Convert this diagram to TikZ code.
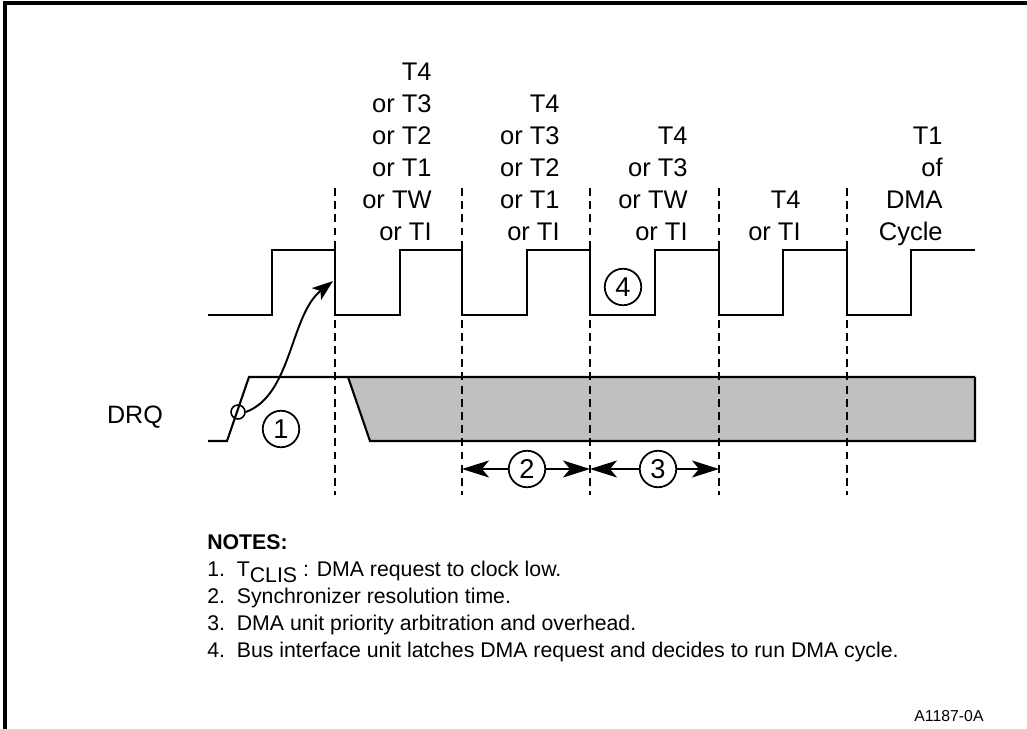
\documentclass[tikz,border=0pt]{standalone}
\usepackage{fontspec}
\setmainfont{Liberation Sans}
\usetikzlibrary{arrows.meta,positioning,calc}
\definecolor{busyfill}{RGB}{192,192,192}
\tikzset{
  wave/.style={
    line width=1.2pt,
    line join=miter
  },
  guide/.style={
    line width=1.1pt,
    dash pattern=on 4.5pt off 3pt
  },
  callout/.style={
    circle,
    draw,
    line width=1pt,
    minimum size=0.73cm,
    inner sep=0pt,
    font=\fontsize{15.5}{15.5}\selectfont
  },
  tlabel/.style={
    anchor=south east,
    align=right,
    inner sep=0pt,
    text depth=0pt,
    font=\fontsize{14.5}{18.2}\selectfont
  },
  dimarrow/.style={
    line width=1.1pt,
    -{Stealth[length=0.54cm, width=0.34cm, inset=0.14cm]}
  }
}

\begin{document}
\begin{tikzpicture}[x=0.02cm, y=-0.02cm]
  \useasboundingbox (0,0) rectangle (1027,729);
  % frame
  \draw[line width=2.3pt] (5,729) -- (5,3) -- (1027,3);

  % clock
  \draw[wave] (208,315) -| (272,250) -| (335,315) -| (400,250) -| (462,315)
    -| (527,250) -| (590,315) -| (655,250) -| (719,315) -| (783,250)
    -| (847,315) -| (911,250) -- (975,250);

  % DRQ
  \fill[busyfill] (348,377) -- (370,441) -- (975,441) -- (975,377) -- cycle;
  \draw[wave] (348,377) -- (370,441) -- (975,441) -- (975,377);
  \draw[wave] (208,441) -- (227,441) -- (249,377) -- (975,377);
  \node[font=\fontsize{14.3}{14.3}\selectfont] (drq) at (135,417) {DRQ};

  % state boundaries
  \foreach \x in {335,462,590,719,847}
    \draw[guide] (\x,188) -- (\x,495);

  % state labels
  \node[tlabel] (lab1) at (432,241) {T4\\or T3\\or T2\\or T1\\or TW\\or TI};
  \node[tlabel] (lab2) at (560,241) {T4\\or T3\\or T2\\or T1\\or TI};
  \node[tlabel] (lab3) at (688,241) {T4\\or T3\\or TW\\or TI};
  \node[tlabel] (lab4) at (801,241) {T4\\or TI};
  \node[tlabel] (lab5) at (943,241) {T1\\of\\DMA\\Cycle};

  % request sampled
  \node[circle, draw, line width=0.9pt, minimum size=0.28cm, inner sep=0pt] (hit) at (238,412) {};
  \coordinate (edge) at (333,281);
  \draw[line width=1.1pt, -{Stealth[length=0.42cm, width=0.3cm, inset=0.1cm]}]
    (hit.east) .. controls (292,395) and (290,315) .. (edge);

  % callouts
  \node[callout] (c1) at (281,429) {1};
  \node[callout] (c4) at (623,287) {4};
  \node[callout] (c2) at (527,469) {2};
  \node[callout] (c3) at (658,469) {3};
  \coordinate (g1) at (462,469);
  \coordinate (g2) at (590,469);
  \coordinate (g3) at (719,469);
  \draw[dimarrow] (c2) -- (g1);
  \draw[dimarrow] (c2) -- (g2);
  \draw[dimarrow] (c3) -- (g2);
  \draw[dimarrow] (c3) -- (g3);

  % notes
  \node[anchor=north west, align=left, inner sep=0pt, font=\fontsize{12.1}{15.4}\selectfont] (notes) at (207,534)
    {\textbf{NOTES:}\\
     1.\ \ T\raisebox{-0.55ex}{CLIS} : DMA request to clock low.\\
     2.\ \ Synchronizer resolution time.\\
     3.\ \ DMA unit priority arbitration and overhead.\\
     4.\ \ Bus interface unit latches DMA request and decides to run DMA cycle.};
  \node[font=\fontsize{9}{9}\selectfont] (fig) at (949,716) {A1187-0A};
\end{tikzpicture}
\end{document}
